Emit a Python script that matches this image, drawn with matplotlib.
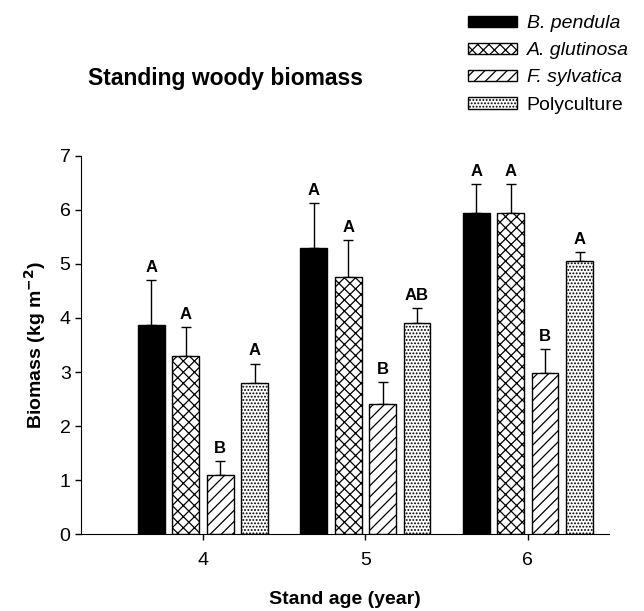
import numpy as np
import matplotlib.pyplot as plt

plt.rcParams['font.family'] = ['Liberation Sans', 'DejaVu Sans']
plt.rcParams['hatch.linewidth'] = 0.9

ages = [4, 5, 6]
species = ['B. pendula', 'A. glutinosa', 'F. sylvatica', 'Polyculture']
means = {
    'B. pendula':   [3.87, 5.30, 5.94],
    'A. glutinosa': [3.30, 4.76, 5.94],
    'F. sylvatica': [1.09, 2.41, 2.98],
    'Polyculture':  [2.80, 3.91, 5.05],
}
errors = {
    'B. pendula':   [0.83, 0.83, 0.54],
    'A. glutinosa': [0.53, 0.68, 0.54],
    'F. sylvatica': [0.26, 0.40, 0.44],
    'Polyculture':  [0.35, 0.27, 0.17],
}
letters = {
    'B. pendula':   ['A', 'A', 'A'],
    'A. glutinosa': ['A', 'A', 'A'],
    'F. sylvatica': ['B', 'B', 'B'],
    'Polyculture':  ['A', 'AB', 'A'],
}
styles = {
    'B. pendula':   dict(color='black', hatch=None),
    'A. glutinosa': dict(color='white', hatch='xxx'),
    'F. sylvatica': dict(color='white', hatch='///'),
    'Polyculture':  dict(color='white', hatch='.....'),
}

fig = plt.figure(figsize=(6.44, 6.11), dpi=100)
ax = fig.add_axes([0.1258, 0.126, 0.820, 0.6187])

x = np.array(ages, dtype=float)
width = 0.165
pitch = 0.212
handles = []
for i, sp in enumerate(species):
    pos = x + (i - 1.5) * pitch
    st = styles[sp]
    b = ax.bar(pos, means[sp], width, color=st['color'], edgecolor='black',
               linewidth=1.0, hatch=st['hatch'], label=sp, zorder=2)
    handles.append(b)
    ax.errorbar(pos, means[sp], yerr=[np.zeros(3), errors[sp]], fmt='none',
                ecolor='black', elinewidth=1.0, capsize=3.6, capthick=1.0, zorder=1)
    for p, m, e, t in zip(pos, means[sp], errors[sp], letters[sp]):
        ax.text(p, m + e + 0.24, t, ha='center', va='center', fontsize=12,
                fontweight='bold')

ax.set_xlim(3.25, 6.5)
ax.set_ylim(0, 7)
ax.set_xticks(ages)
ax.set_yticks(range(0, 8))
ax.tick_params(axis='both', direction='out', labelsize=14, length=4, width=1)
ax.tick_params(axis='x', pad=9)
ax.spines['top'].set_visible(False)
ax.spines['right'].set_visible(False)
ax.set_xlabel('Stand age (year)', fontsize=14, fontweight='bold', labelpad=16)
ax.set_ylabel('Biomass (kg m$^{\\mathbf{-2}}$)', fontsize=14, fontweight='bold', labelpad=8)

fig.text(225 / 644, 1 - 78 / 611, 'Standing woody biomass', ha='center', va='center',
         fontsize=16.5, fontweight='bold')

leg = fig.legend(handles, species, loc='upper left', bbox_to_anchor=(0.727, 0.975),
                 frameon=False, fontsize=14, handlelength=2.5, handleheight=0.55,
                 handletextpad=0.5, labelspacing=0.52, borderpad=0, borderaxespad=0)
for t in leg.get_texts()[:3]:
    t.set_fontstyle('italic')

fig.savefig('out.png', dpi=100)
